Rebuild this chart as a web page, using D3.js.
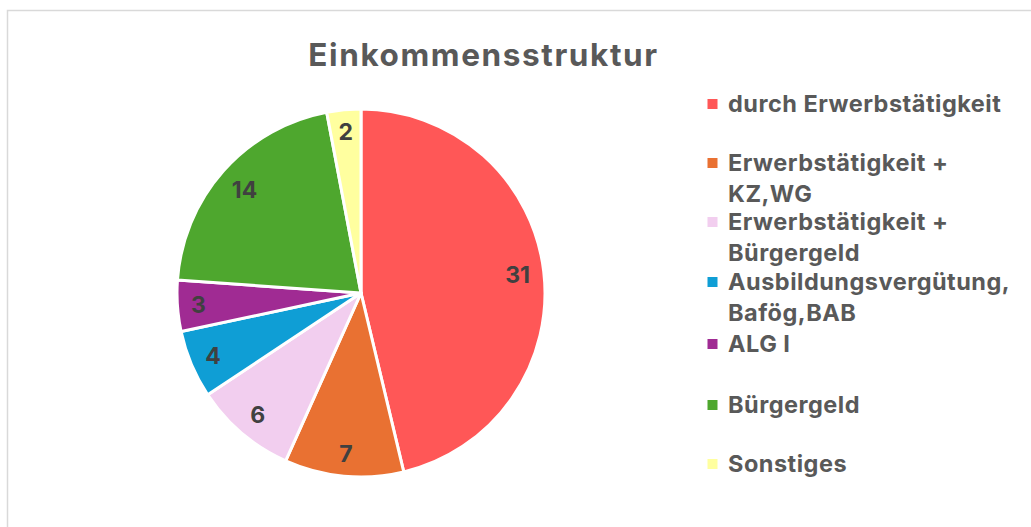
<!DOCTYPE html>
<html><head><meta charset="utf-8">
<script src="https://cdn.jsdelivr.net/npm/d3@7"></script>
<style>html,body{margin:0;padding:0;background:#fff;}svg{display:block;}</style>
</head><body>
<svg id="c" width="1031" height="527"></svg>
<script>
const categories = ["durch Erwerbstätigkeit","Erwerbstätigkeit + KZ,WG","Erwerbstätigkeit + Bürgergeld","Ausbildungsvergütung, Bafög,BAB","ALG I","Bürgergeld","Sonstiges"];
const legendLines = [["durch Erwerbstätigkeit"],["Erwerbstätigkeit +","KZ,WG"],["Erwerbstätigkeit +","Bürgergeld"],["Ausbildungsvergütung,","Bafög,BAB"],["ALG I"],["Bürgergeld"],["Sonstiges"]];
const values = [31,7,6,4,3,14,2];
const colors = ["#FF5757","#E97132","#F2CEEF","#0F9ED5","#A02B93","#4EA72E","#FFFF9F"];
const title = "Einkommensstruktur";

const svg = d3.select("#c");
const font = "Inter, 'Open Sans', sans-serif";
svg.append("rect").attr("x",7.5).attr("y",10.5).attr("width",1040).attr("height",540)
  .attr("fill","#fff").attr("stroke","#d9d9d9").attr("stroke-width",1.5);

svg.append("text").attr("x",483.5).attr("y",66).attr("text-anchor","middle")
  .attr("font-family",font).attr("font-weight",700).attr("font-size",31.5).attr("letter-spacing",1.6)
  .attr("fill","#595959").text(title);

const cx=361, cy=293, r=184;
const pie = d3.pie().sort(null).value(d=>d)(values);
const arc = d3.arc().innerRadius(0).outerRadius(r);
const g = svg.append("g").attr("transform",`translate(${cx},${cy})`);
g.selectAll("path").data(pie).join("path").attr("d",arc)
  .attr("fill",(d,i)=>colors[i]).attr("stroke","#fff").attr("stroke-width",3).attr("stroke-linejoin","round");
const labels = g.selectAll("text").data(pie).join("text")
  .attr("text-anchor","middle").attr("dy","0.36em")
  .attr("font-family",font).attr("font-weight",700).attr("font-size",23).attr("fill","#404040")
  .text(d=>d.data);
// inside-end placement: keep the label box a fixed margin inside the rim
labels.each(function(d){
  const bb=this.getBBox();
  const a=(d.startAngle+d.endAngle)/2;
  const ux=Math.sin(a), uy=-Math.cos(a);
  const ext=(bb.width/2)*Math.abs(ux)+8.5*Math.abs(uy);
  const rr=r-13-ext;
  d3.select(this).attr("x",rr*ux).attr("y",rr*uy);
});

const ly=[104,163,222,282,344,405,464];
const lg = svg.append("g");
legendLines.forEach((lines,i)=>{
  lg.append("rect").attr("x",707.5).attr("y",ly[i]-5).attr("width",10).attr("height",10).attr("fill",colors[i]);
  lines.forEach((t,j)=>{
    lg.append("text").attr("x",728).attr("y",ly[i]+j*31).attr("dy","0.35em")
      .attr("font-family",font).attr("font-weight",700).attr("font-size",23.5).attr("letter-spacing",0.5)
      .attr("fill","#595959").text(t);
  });
});
</script>
</body></html>
